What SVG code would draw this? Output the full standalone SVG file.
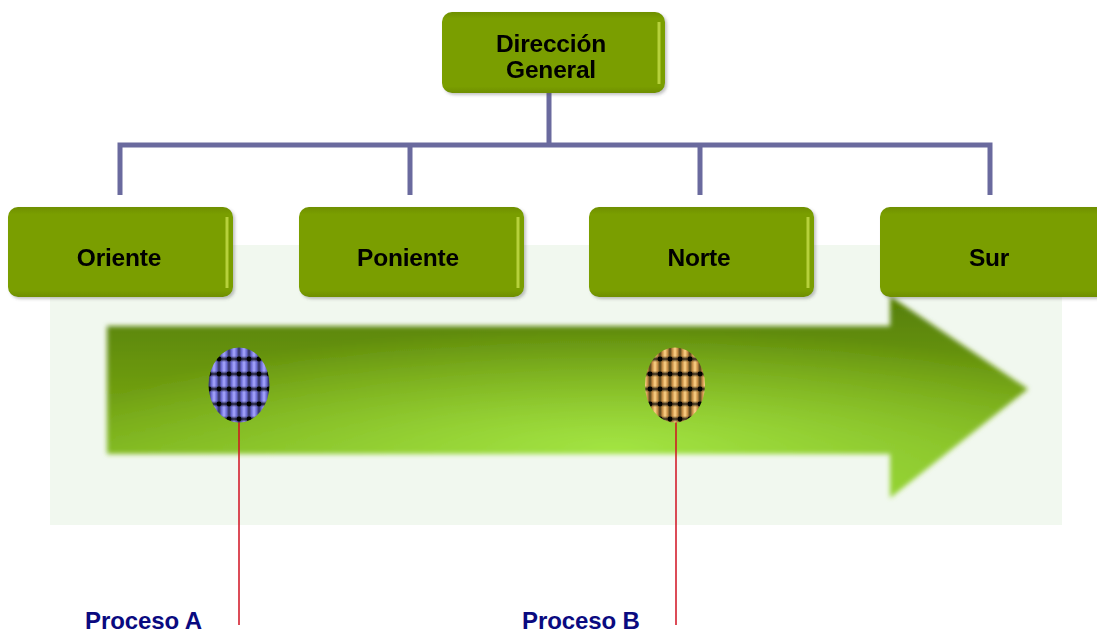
<svg xmlns="http://www.w3.org/2000/svg" width="1097" height="635" viewBox="0 0 1097 635">
  <defs>
    <style>
      .box { fill: url(#boxFill); }
      .bevel { fill: none; stroke: #b6d13a; stroke-width: 3; }
      .lbl { font-family: "Liberation Sans", Arial, sans-serif; font-weight: bold; font-size: 24.5px; fill: #000; text-anchor: middle; letter-spacing: -0.2px; }
      .proc { font-family: "Liberation Sans", Arial, sans-serif; font-weight: bold; font-size: 24px; fill: #0a0a80; letter-spacing: -0.1px; }
      .tree { fill: none; stroke: #6a6a9e; stroke-width: 5; }
      .lead { stroke: #d01020; stroke-width: 1.5; }
    </style>
    <linearGradient id="boxFill" x1="0" y1="0" x2="0" y2="1">
      <stop offset="0" stop-color="#6e8f00"/>
      <stop offset="0.08" stop-color="#7a9e00"/>
      <stop offset="0.92" stop-color="#7a9e00"/>
      <stop offset="1" stop-color="#6e8e00"/>
    </linearGradient>
    <linearGradient id="arrowFill" x1="0" y1="0" x2="0" y2="1">
      <stop offset="0" stop-color="#557e05"/>
      <stop offset="0.45" stop-color="#6e9c10"/>
      <stop offset="1" stop-color="#8cc82a"/>
    </linearGradient>
    <radialGradient id="arrowGlow" cx="0.55" cy="0.75" r="0.6">
      <stop offset="0" stop-color="#a8ec48" stop-opacity="0.85"/>
      <stop offset="1" stop-color="#a8ec48" stop-opacity="0"/>
    </radialGradient>
    <filter id="soft" x="-5%" y="-10%" width="110%" height="120%">
      <feGaussianBlur stdDeviation="2.5"/>
    </filter>
    <filter id="shade" x="-5%" y="-10%" width="115%" height="130%">
      <feDropShadow dx="2" dy="2" stdDeviation="1.5" flood-color="#555" flood-opacity="0.35"/>
    </filter>
    <filter id="cellBlur">
      <feGaussianBlur stdDeviation="0.7"/>
    </filter>
    <!-- mesh cells: bright column centre, dark seams between cells -->
    <linearGradient id="blueCol" x1="0" y1="0" x2="1" y2="0">
      <stop offset="0" stop-color="#303060"/>
      <stop offset="0.25" stop-color="#6e6ed4"/>
      <stop offset="0.5" stop-color="#a8a8ff"/>
      <stop offset="0.75" stop-color="#6e6ed4"/>
      <stop offset="1" stop-color="#303060"/>
    </linearGradient>
    <linearGradient id="goldCol" x1="0" y1="0" x2="1" y2="0">
      <stop offset="0" stop-color="#504018"/>
      <stop offset="0.25" stop-color="#c89048"/>
      <stop offset="0.5" stop-color="#ffd488"/>
      <stop offset="0.75" stop-color="#c89048"/>
      <stop offset="1" stop-color="#504018"/>
    </linearGradient>
    <linearGradient id="rowShade" x1="0" y1="0" x2="0" y2="1">
      <stop offset="0" stop-color="#000" stop-opacity="0.8"/>
      <stop offset="0.2" stop-color="#000" stop-opacity="0"/>
      <stop offset="0.8" stop-color="#000" stop-opacity="0"/>
      <stop offset="1" stop-color="#000" stop-opacity="0.8"/>
    </linearGradient>
    <pattern id="bluePat" x="-1" y="-1" width="10" height="15" patternUnits="userSpaceOnUse">
      <rect width="10" height="15" fill="url(#blueCol)"/>
      <rect width="10" height="15" fill="url(#rowShade)"/>
      <circle cx="0" cy="0" r="2.4" fill="#000"/>
      <circle cx="10" cy="0" r="2.4" fill="#000"/>
      <circle cx="0" cy="15" r="2.4" fill="#000"/>
      <circle cx="10" cy="15" r="2.4" fill="#000"/>
    </pattern>
    <pattern id="goldPat" x="0" y="-1" width="10" height="15" patternUnits="userSpaceOnUse">
      <rect width="10" height="15" fill="url(#goldCol)"/>
      <rect width="10" height="15" fill="url(#rowShade)"/>
      <circle cx="0" cy="0" r="2.4" fill="#000"/>
      <circle cx="10" cy="0" r="2.4" fill="#000"/>
      <circle cx="0" cy="15" r="2.4" fill="#000"/>
      <circle cx="10" cy="15" r="2.4" fill="#000"/>
    </pattern>
  </defs>

  <rect width="1097" height="635" fill="#ffffff"/>

  <!-- pale backdrop behind the arrow -->
  <rect x="50" y="245" width="1012" height="280" fill="#f1f8ef"/>

  <!-- big timeline arrow -->
  <g id="arrow" filter="url(#soft)">
    <path d="M107,326 L890,326 L890,296 L1028,389 L890,498 L890,454 L107,454 Z" fill="url(#arrowFill)"/>
    <path d="M107,326 L890,326 L890,296 L1028,389 L890,498 L890,454 L107,454 Z" fill="url(#arrowGlow)"/>
  </g>

  <!-- tree connectors -->
  <g id="connectors">
    <path class="tree" d="M549,93 V145 M120,195 V145 H990 V195 M410,145 V195 M700,145 V195"/>
    <line class="lead" x1="239" y1="420" x2="239" y2="625"/>
    <line class="lead" x1="676" y1="420" x2="676" y2="625"/>
  </g>

  <g id="dir-general" filter="url(#shade)">
    <rect class="box" x="442" y="12" width="223" height="81" rx="10"/>
    <path class="bevel" d="M659,22 V84"/>
    <text class="lbl" x="551" y="52">Dirección</text>
    <text class="lbl" x="551" y="78">General</text>
  </g>

  <g id="oriente" filter="url(#shade)">
    <rect class="box" x="8" y="207" width="225" height="90" rx="10"/>
    <path class="bevel" d="M227,217 V288"/>
    <text class="lbl" x="119" y="266">Oriente</text>
  </g>

  <g id="poniente" filter="url(#shade)">
    <rect class="box" x="299" y="207" width="225" height="90" rx="10"/>
    <path class="bevel" d="M518,217 V288"/>
    <text class="lbl" x="408" y="266">Poniente</text>
  </g>

  <g id="norte" filter="url(#shade)">
    <rect class="box" x="589" y="207" width="225" height="90" rx="10"/>
    <path class="bevel" d="M808,217 V288"/>
    <text class="lbl" x="699" y="266">Norte</text>
  </g>

  <g id="sur" filter="url(#shade)">
    <rect class="box" x="880" y="207" width="230" height="90" rx="10"/>
    <text class="lbl" x="989" y="266">Sur</text>
  </g>

  <g id="proceso-a">
    <ellipse cx="239" cy="385" rx="30.5" ry="37.5" fill="url(#bluePat)" filter="url(#cellBlur)"/>
    <text class="proc" x="85" y="629">Proceso A</text>
  </g>

  <g id="proceso-b">
    <ellipse cx="675" cy="385" rx="30" ry="37.5" fill="url(#goldPat)" filter="url(#cellBlur)"/>
    <text class="proc" x="522" y="629">Proceso B</text>
  </g>
</svg>
